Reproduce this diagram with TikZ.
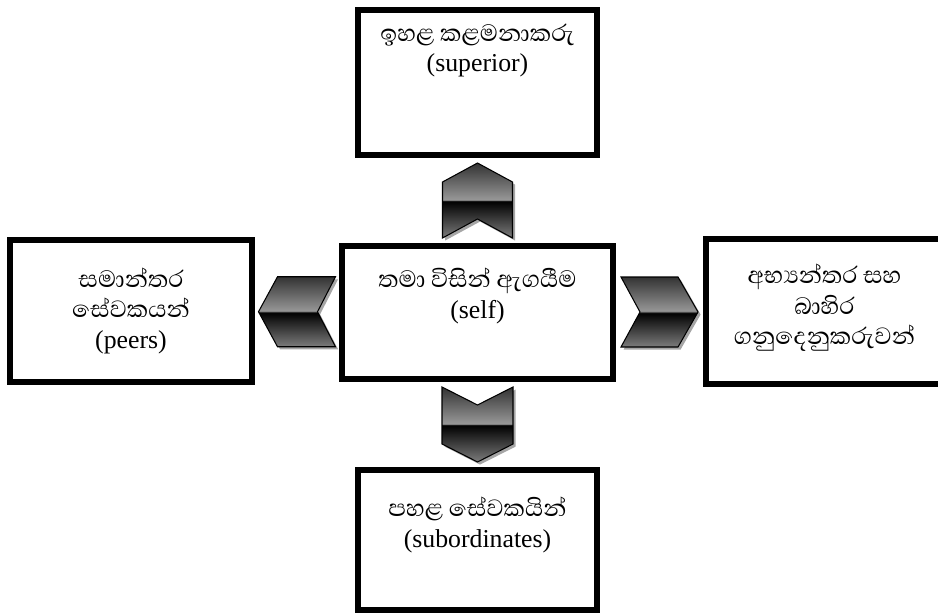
\documentclass[tikz,border=0pt]{standalone}
\usepackage{fontspec}
\setmainfont{Liberation Serif}
\newfontfamily\sinfont[Script=Sinhala,Scale=1.17]{Abhaya Libre}
\usepackage{xcolor}
\usetikzlibrary{positioning,calc,shadows}

\definecolor{chevtop}{HTML}{333333}
\definecolor{chevmid}{HTML}{979797}
\definecolor{chevlow}{HTML}{7C7C7C}
\pgfdeclareverticalshading{chevmetal}{100bp}{color(0bp)=(chevlow); color(25bp)=(chevlow); color(49.5bp)=(black); color(50.5bp)=(chevmid); color(75bp)=(chevtop); color(100bp)=(chevtop)}

\tikzset{
  box/.style={draw, line width=5.5pt, inner sep=0pt},
  lbl/.style={align=center, font=\fontsize{22}{26}\selectfont},
  chev/.style={draw=black, line width=0.9pt, shading=chevmetal,
    drop shadow={shadow xshift=2.2pt, shadow yshift=-2.2pt, fill=black!35, opacity=1}}
}

\begin{document}
\begin{tikzpicture}[x=0.03cm, y=-0.03cm]
        \useasboundingbox (0,0) rectangle (938,616);
        \node[box, minimum width=7.17cm, minimum height=4.35cm] (sup) at (477.5,82.5) {};
        \node[box, minimum width=8.13cm, minimum height=3.99cm] (self) at (477.5,312.5) {};
        \node[box, minimum width=7.26cm, minimum height=4.26cm] (peers) at (131,311) {};
        \node[box, minimum width=7.11cm, minimum height=4.35cm] (ext) at (824.5,311.5) {};
        \node[box, minimum width=7.17cm, minimum height=4.2cm] (sub) at (477.5,540) {};
        % labels
        \node[lbl] (supt) at ($(sup.north)+(0,44)$) {{\sinfont ඉහළ කළමනාකරු}\\(superior)};
        \node[lbl] (selft) at ($(self.north)+(0,53)$) {{\sinfont තමා විසින් ඇගයීම}\\(self)};
        \node[lbl] (peerst) at ($(peers.north)+(0,74)$) {{\sinfont සමාන්තර}\\{\sinfont සේවකයන්}\\(peers)};
        \node[lbl] (extt) at ($(ext.north)+(0,72)$) {{\sinfont අභ්^^^^200dයන්තර සහ}\\{\sinfont බාහිර}\\{\sinfont ගනුදෙනුකරුවන්}};
        \node[lbl] (subt) at ($(sub.north)+(0,58)$) {{\sinfont පහළ සේවකයින්}\\(subordinates)};
        % chevrons
        \coordinate (cup) at ($(sup.south)!0.5!(self.north)$);
        \coordinate (cdown) at ($(self.south)!0.5!(sub.north)$);
        \coordinate (cleft) at ($(peers.east)!0.5!(self.west)$);
        \coordinate (cright) at ($(self.east)!0.5!(ext.west)$);
        \draw[chev] ($(cup)+(0,-37.5)$) -- ++(35,19) -- ++(0,56) -- ++(-35,-19) -- ++(-35,19) -- ++(0,-56) -- cycle;
        \draw[chev] ($(cdown)+(-35.5,-37.5)$) -- ++(35.5,18) -- ++(35.5,-18) -- ++(0,57) -- ++(-35.5,18) -- ++(-35.5,-18) -- cycle;
        \draw[chev] ($(cleft)+(-38.5,0)$) -- ++(19,-35) -- ++(58,0) -- ++(-18,35) -- ++(18,35) -- ++(-58,0) -- cycle;
        \draw[chev] ($(cright)+(-38.5,-35)$) -- ++(57,0) -- ++(20,35) -- ++(-20,35) -- ++(-57,0) -- ++(19,-35) -- cycle;
\end{tikzpicture}
\end{document}
